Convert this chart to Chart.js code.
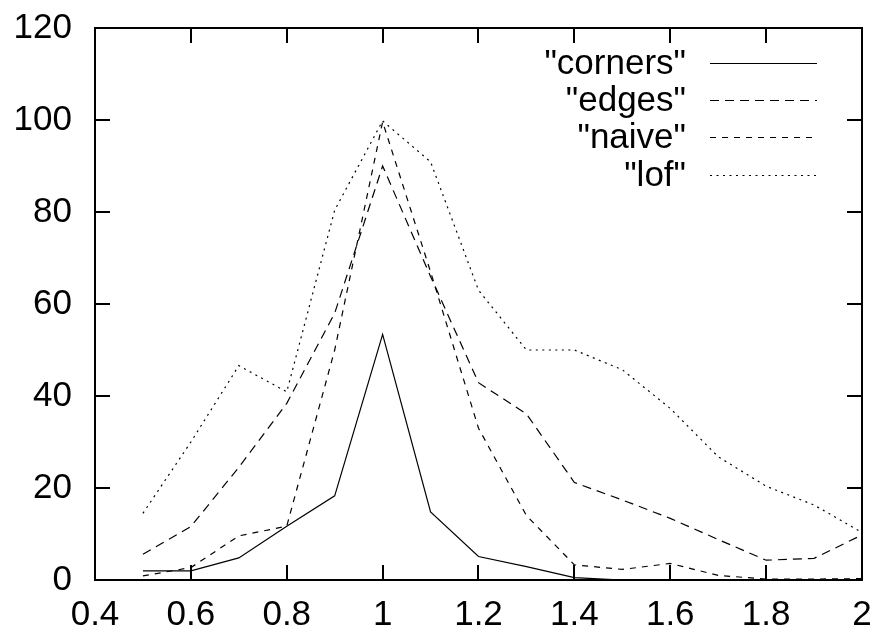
<!DOCTYPE html>
<html>
<head>
<meta charset="utf-8">
<script src="https://cdn.jsdelivr.net/npm/chart.js@4"></script>
<style>
html,body{margin:0;padding:0;background:#fff;}
canvas{display:block;}
</style>
</head>
<body>
<canvas id="c" width="876" height="637"></canvas>
<script>
const xValues = [0.5,0.6,0.7,0.8,0.9,1.0,1.1,1.2,1.3,1.4,1.5,1.6,1.7,1.8,1.9,2.0];
const corners = [2.0,2.0,4.8,11.7,18.3,53.4,14.8,5.1,2.9,0.5,0,0,0,0,0,0];
const edges   = [5.6,11.6,24.5,38.4,58,90,66,42.9,36.1,21.2,17.4,13.4,8.8,4.3,4.7,9.8];
const naive   = [0.9,2.7,9.6,11.7,50,99.6,67,33,14,3.3,2.3,3.6,1.0,0.2,0.2,0.3];
const lof     = [14.5,30,46.6,40.9,80.4,99.8,90.9,63,50,50,45.7,37.3,26.8,20.4,16.3,10.3];
const seriesNames = ['"corners"','"edges"','"naive"','"lof"'];
const xTickValues = [0.4,0.6,0.8,1.0,1.2,1.4,1.6,1.8,2.0];
const xTickLabels = ['0.4','0.6','0.8','1','1.2','1.4','1.6','1.8','2'];
const yTickValues = [0,20,40,60,80,100,120];
const yTickLabels = ['0','20','40','60','80','100','120'];

const FONT = '"Liberation Sans", Arial, sans-serif';
const FS = 35;

function pts(arr){ return xValues.map((x,i)=>({x:x,y:arr[i]})); }

const dashes = [[], [9,6], [6,6], [2,4.5]];
const allSeries = [corners, edges, naive, lof];

function noPad(s){ s.paddingTop=0; s.paddingBottom=0; s.paddingLeft=0; s.paddingRight=0; }

const frame = {
  id:'frame',
  afterDraw(chart){
    const ctx = chart.ctx, a = chart.chartArea;
    const xs = chart.scales.x, ys = chart.scales.y;
    const TL = 15;
    ctx.save();
    ctx.strokeStyle = '#000';
    ctx.lineWidth = 2;
    ctx.setLineDash([]);
    ctx.beginPath();
    xTickValues.forEach(v=>{
      const px = Math.round(xs.getPixelForValue(v));
      ctx.moveTo(px, a.bottom); ctx.lineTo(px, a.bottom-TL);
      ctx.moveTo(px, a.top); ctx.lineTo(px, a.top+TL);
    });
    yTickValues.forEach(v=>{
      const py = Math.round(ys.getPixelForValue(v));
      ctx.moveTo(a.left, py); ctx.lineTo(a.left+TL, py);
      ctx.moveTo(a.right, py); ctx.lineTo(a.right-TL, py);
    });
    ctx.stroke();
    ctx.strokeRect(a.left, a.top, a.right-a.left, a.bottom-a.top);
    // legend
    ctx.font = FS + 'px ' + FONT;
    ctx.fillStyle = '#000';
    ctx.textAlign = 'right';
    ctx.textBaseline = 'middle';
    const rowY = [63, 100, 137, 175];
    chart.data.datasets.forEach((ds,i)=>{
      const y = rowY[i];
      ctx.fillText(ds.label, 686, y+1);
      ctx.lineWidth = 1.2;
      ctx.setLineDash(ds.borderDash || []);
      ctx.beginPath();
      ctx.moveTo(710, y+0.5); ctx.lineTo(817, y+0.5);
      ctx.stroke();
    });
    ctx.restore();
  }
};

new Chart(document.getElementById('c'), {
  type:'line',
  data:{
    datasets: allSeries.map((s,i)=>({
      label: seriesNames[i],
      data: pts(s),
      borderColor:'#000',
      borderWidth:1.2,
      borderDash: dashes[i],
      pointRadius:0,
      fill:false,
      tension:0
    }))
  },
  options:{
    responsive:false,
    animation:false,
    devicePixelRatio:1,
    layout:{padding:{left:0,right:14,top:28,bottom:0}},
    plugins:{legend:{display:false},tooltip:{enabled:false}},
    scales:{
      x:{
        type:'linear', min:0.4, max:2.0,
        afterBuildTicks(s){ s.ticks = xTickValues.map(v=>({value:v})); },
        afterFit(s){ s.height = 57; noPad(s); },
        grid:{display:false, drawTicks:false},
        border:{display:false},
        ticks:{
          padding:14,
          color:'#000',
          font:{family:FONT,size:FS},
          maxRotation:0, autoSkip:false,
          callback:(v,i)=>xTickLabels[i]
        }
      },
      y:{
        type:'linear', min:0, max:120,
        afterBuildTicks(s){ s.ticks = yTickValues.map(v=>({value:v})); },
        afterFit(s){ s.width = 95; noPad(s); },
        grid:{display:false, drawTicks:false},
        border:{display:false},
        ticks:{
          padding:23,
          color:'#000',
          font:{family:FONT,size:FS},
          autoSkip:false,
          callback:(v,i)=>yTickLabels[i]
        }
      }
    }
  },
  plugins:[frame]
});
</script>
</body>
</html>
